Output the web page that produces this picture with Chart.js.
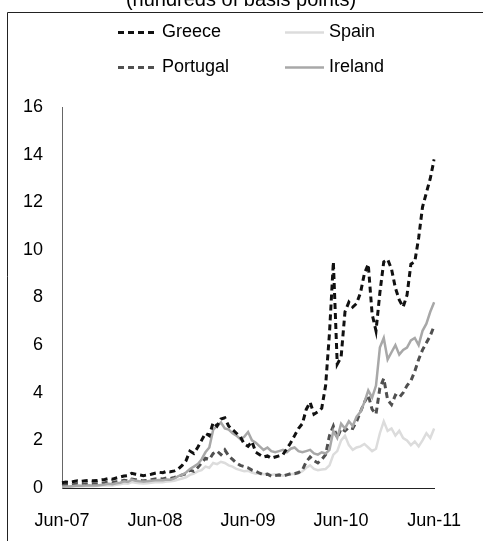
<!DOCTYPE html>
<html>
<head>
<meta charset="utf-8">
<script src="https://cdn.jsdelivr.net/npm/chart.js@4"></script>
<style>
  html, body { margin: 0; padding: 0; background: #fff; overflow: hidden; }
  .chart-box { position: relative; width: 483px; height: 541px; }
</style>
</head>
<body>
<div class="chart-box"><canvas id="spreadChart"></canvas></div>
<script>
// Sovereign spreads vs Bund, semi-monthly readings, Jun-07 .. Jun-11
const months = [
    'Jun-07', 'Jul-07', 'Aug-07', 'Sep-07', 'Oct-07', 'Nov-07', 'Dec-07',
    'Jan-08', 'Feb-08', 'Mar-08', 'Apr-08', 'May-08', 'Jun-08', 'Jul-08',
    'Aug-08', 'Sep-08', 'Oct-08', 'Nov-08', 'Dec-08', 'Jan-09', 'Feb-09',
    'Mar-09', 'Apr-09', 'May-09', 'Jun-09', 'Jul-09', 'Aug-09', 'Sep-09',
    'Oct-09', 'Nov-09', 'Dec-09', 'Jan-10', 'Feb-10', 'Mar-10', 'Apr-10',
    'May-10', 'Jun-10', 'Jul-10', 'Aug-10', 'Sep-10', 'Oct-10', 'Nov-10',
    'Dec-10', 'Jan-11', 'Feb-11', 'Mar-11', 'Apr-11', 'May-11', 'Jun-11'
];
const tickLabels = ['Jun-07', 'Jun-08', 'Jun-09', 'Jun-10', 'Jun-11'];
const yTicks = [0, 2, 4, 6, 8, 10, 12, 14, 16];
const titleText = '(hundreds of basis points)';

const greece = [
    0.22, 0.25, 0.24, 0.27, 0.30, 0.28, 0.30, 0.32, 0.30, 0.31, 0.34, 0.36,
    0.40, 0.37, 0.42, 0.46, 0.50, 0.52, 0.62, 0.58, 0.55, 0.52, 0.55, 0.58,
    0.62, 0.66, 0.64, 0.70, 0.68, 0.72, 0.80, 0.95, 1.15, 1.55, 1.45, 1.70,
    2.00, 2.30, 2.20, 2.75, 2.60, 2.90, 2.95, 2.60, 2.45, 2.30, 2.15, 1.85,
    1.75, 1.95, 1.50, 1.40, 1.30, 1.35, 1.25, 1.30, 1.35, 1.40, 1.65, 1.90,
    2.20, 2.50, 2.70, 3.30, 3.60, 3.10, 3.20, 3.35, 4.30, 6.50, 9.50, 5.20,
    5.50, 7.40, 7.80, 7.60, 7.75, 8.20, 9.00, 9.40, 7.30, 6.60, 8.20, 9.50,
    9.60, 9.20, 8.40, 7.90, 7.60, 8.10, 9.40, 9.50, 10.5, 11.8, 12.4, 13.0,
    13.8
];
const spain = [
    0.04, 0.05, 0.05, 0.06, 0.07, 0.06, 0.07, 0.08, 0.07, 0.08, 0.09, 0.10,
    0.12, 0.11, 0.14, 0.16, 0.20, 0.18, 0.25, 0.22, 0.20, 0.19, 0.20, 0.22,
    0.24, 0.25, 0.24, 0.27, 0.28, 0.30, 0.35, 0.40, 0.45, 0.55, 0.60, 0.70,
    0.75, 0.90, 0.85, 1.05, 1.00, 1.10, 1.05, 0.95, 0.90, 0.80, 0.75, 0.70,
    0.72, 0.65, 0.60, 0.62, 0.58, 0.60, 0.55, 0.58, 0.55, 0.52, 0.56, 0.58,
    0.60, 0.62, 0.70, 0.85, 0.95, 0.80, 0.75, 0.78, 0.80, 0.95, 1.40, 1.55,
    2.00, 2.20, 1.80, 1.60, 1.70, 1.75, 1.85, 1.70, 1.55, 1.65, 2.30, 2.80,
    2.40, 2.50, 2.20, 2.40, 2.10, 2.00, 1.80, 1.95, 1.75, 2.00, 2.30, 2.10,
    2.50
];
const portugal = [
    0.12, 0.14, 0.13, 0.15, 0.18, 0.16, 0.17, 0.19, 0.18, 0.18, 0.20, 0.22,
    0.25, 0.22, 0.26, 0.28, 0.32, 0.30, 0.38, 0.35, 0.33, 0.30, 0.32, 0.35,
    0.38, 0.40, 0.38, 0.42, 0.40, 0.44, 0.50, 0.55, 0.60, 0.75, 0.70, 0.85,
    1.05, 1.25, 1.20, 1.45, 1.55, 1.40, 1.60, 1.35, 1.20, 1.05, 0.95, 0.90,
    0.85, 0.75, 0.70, 0.62, 0.55, 0.58, 0.50, 0.52, 0.55, 0.50, 0.55, 0.60,
    0.60, 0.65, 0.75, 1.10, 1.30, 1.15, 1.05, 1.20, 1.40, 2.20, 2.60, 2.10,
    2.50, 2.40, 2.55, 2.50, 2.80, 3.20, 3.60, 3.90, 3.30, 3.10, 4.20, 4.60,
    3.70, 3.50, 3.90, 3.80, 4.00, 4.30, 4.50, 4.90, 5.40, 5.80, 6.10, 6.40,
    6.80
];
const ireland = [
    0.05, 0.06, 0.06, 0.08, 0.10, 0.09, 0.10, 0.12, 0.10, 0.11, 0.13, 0.15,
    0.18, 0.16, 0.20, 0.22, 0.28, 0.25, 0.35, 0.30, 0.28, 0.27, 0.28, 0.30,
    0.32, 0.34, 0.33, 0.36, 0.35, 0.40, 0.50, 0.55, 0.65, 0.80, 0.90, 1.00,
    1.20, 1.50, 1.70, 2.45, 2.60, 2.75, 2.50, 2.45, 2.30, 2.20, 2.05, 2.15,
    2.35, 2.00, 1.90, 1.75, 1.60, 1.70, 1.55, 1.50, 1.55, 1.60, 1.50, 1.65,
    1.70, 1.55, 1.50, 1.55, 1.60, 1.45, 1.40, 1.50, 1.45, 1.60, 2.40, 2.10,
    2.70, 2.50, 2.80, 2.60, 3.00, 3.20, 3.60, 4.10, 3.80, 4.30, 5.90, 6.30,
    5.40, 5.70, 6.00, 5.60, 5.80, 5.90, 6.20, 6.30, 6.00, 6.60, 6.90, 7.40,
    7.80
];

// two readings per month, the last month has only the first one
const labels = [];
months.forEach((m, i) => {
    labels.push(m);
    if (i < months.length - 1) labels.push(m);
});

const FONT = '"Liberation Sans", Arial, sans-serif';

// frame, cut-off title and a 2x2 legend like the original
const legendPlugin = {
    id: 'frameAndLegend',
    afterDraw(chart) {
        const ctx = chart.ctx;
        ctx.save();

        // outer frame (only left and top edges show)
        ctx.strokeStyle = '#222';
        ctx.lineWidth = 1;
        ctx.beginPath();
        ctx.moveTo(7.5, 541);
        ctx.lineTo(7.5, 12.5);
        ctx.lineTo(483, 12.5);
        ctx.stroke();

        // title, cut off by the top of the picture
        ctx.font = '20px ' + FONT;
        ctx.fillStyle = '#000';
        ctx.textAlign = 'center';
        ctx.textBaseline = 'alphabetic';
        ctx.fillText(titleText, 241, 6);

        ctx.font = '18px ' + FONT;
        const slots = [[118, 32], [285, 32], [118, 67], [285, 67]];
        chart.data.datasets.forEach(ds => {
            const [x, y] = slots[ds.legendSlot];
            ctx.strokeStyle = ds.borderColor;
            ctx.lineWidth = ds.borderWidth;
            ctx.setLineDash(ds.borderDash || []);
            ctx.beginPath();
            ctx.moveTo(x, y + 0.5);
            ctx.lineTo(x + 39, y + 0.5);
            ctx.stroke();
            ctx.setLineDash([]);
            ctx.textAlign = 'left';
            ctx.textBaseline = 'middle';
            ctx.fillText(ds.label, x + 44, y);
        });
        ctx.restore();
    }
};

new Chart(document.getElementById('spreadChart'), {
    type: 'line',
    data: {
        labels: labels,
        datasets: [
            { label: 'Greece', data: greece, borderColor: '#111', borderWidth: 3, borderDash: [6, 4], legendSlot: 0 },
            { label: 'Ireland', data: ireland, borderColor: '#a8a8a8', borderWidth: 2.5, legendSlot: 3 },
            { label: 'Portugal', data: portugal, borderColor: '#505050', borderWidth: 3, borderDash: [6, 4], legendSlot: 2 },
            { label: 'Spain', data: spain, borderColor: '#dcdcdc', borderWidth: 2.5, legendSlot: 1 }
        ]
    },
    options: {
        responsive: true,
        maintainAspectRatio: false,
        animation: false,
        layout: { padding: { top: 107, right: 43, bottom: 0, left: 0 } },
        elements: {
            point: { radius: 0 },
            line: { tension: 0, borderCapStyle: 'butt' }
        },
        plugins: {
            legend: { display: false },
            title: { display: false },
            tooltip: { enabled: false }
        },
        scales: {
            x: {
                type: 'category',
                offset: false,
                grid: { display: false, drawTicks: false },
                border: { display: true, color: '#222', width: 1 },
                ticks: {
                    autoSkip: false,
                    maxRotation: 0,
                    padding: 22,
                    color: '#000',
                    font: { family: FONT, size: 18 },
                    callback: (v, i) => (i % 24 === 0 ? tickLabels[i / 24] : '')
                },
                afterFit: scale => { scale.height = 53; }
            },
            y: {
                min: 0,
                max: 16,
                grid: { display: false, drawTicks: false },
                border: { display: true, color: '#666', width: 1 },
                ticks: {
                    stepSize: 2,
                    padding: 19,
                    color: '#000',
                    font: { family: FONT, size: 18 },
                    callback: v => (yTicks.includes(v) ? v : '')
                },
                afterFit: scale => { scale.width = 62; }
            }
        }
    },
    plugins: [legendPlugin]
});
</script>
</body>
</html>
